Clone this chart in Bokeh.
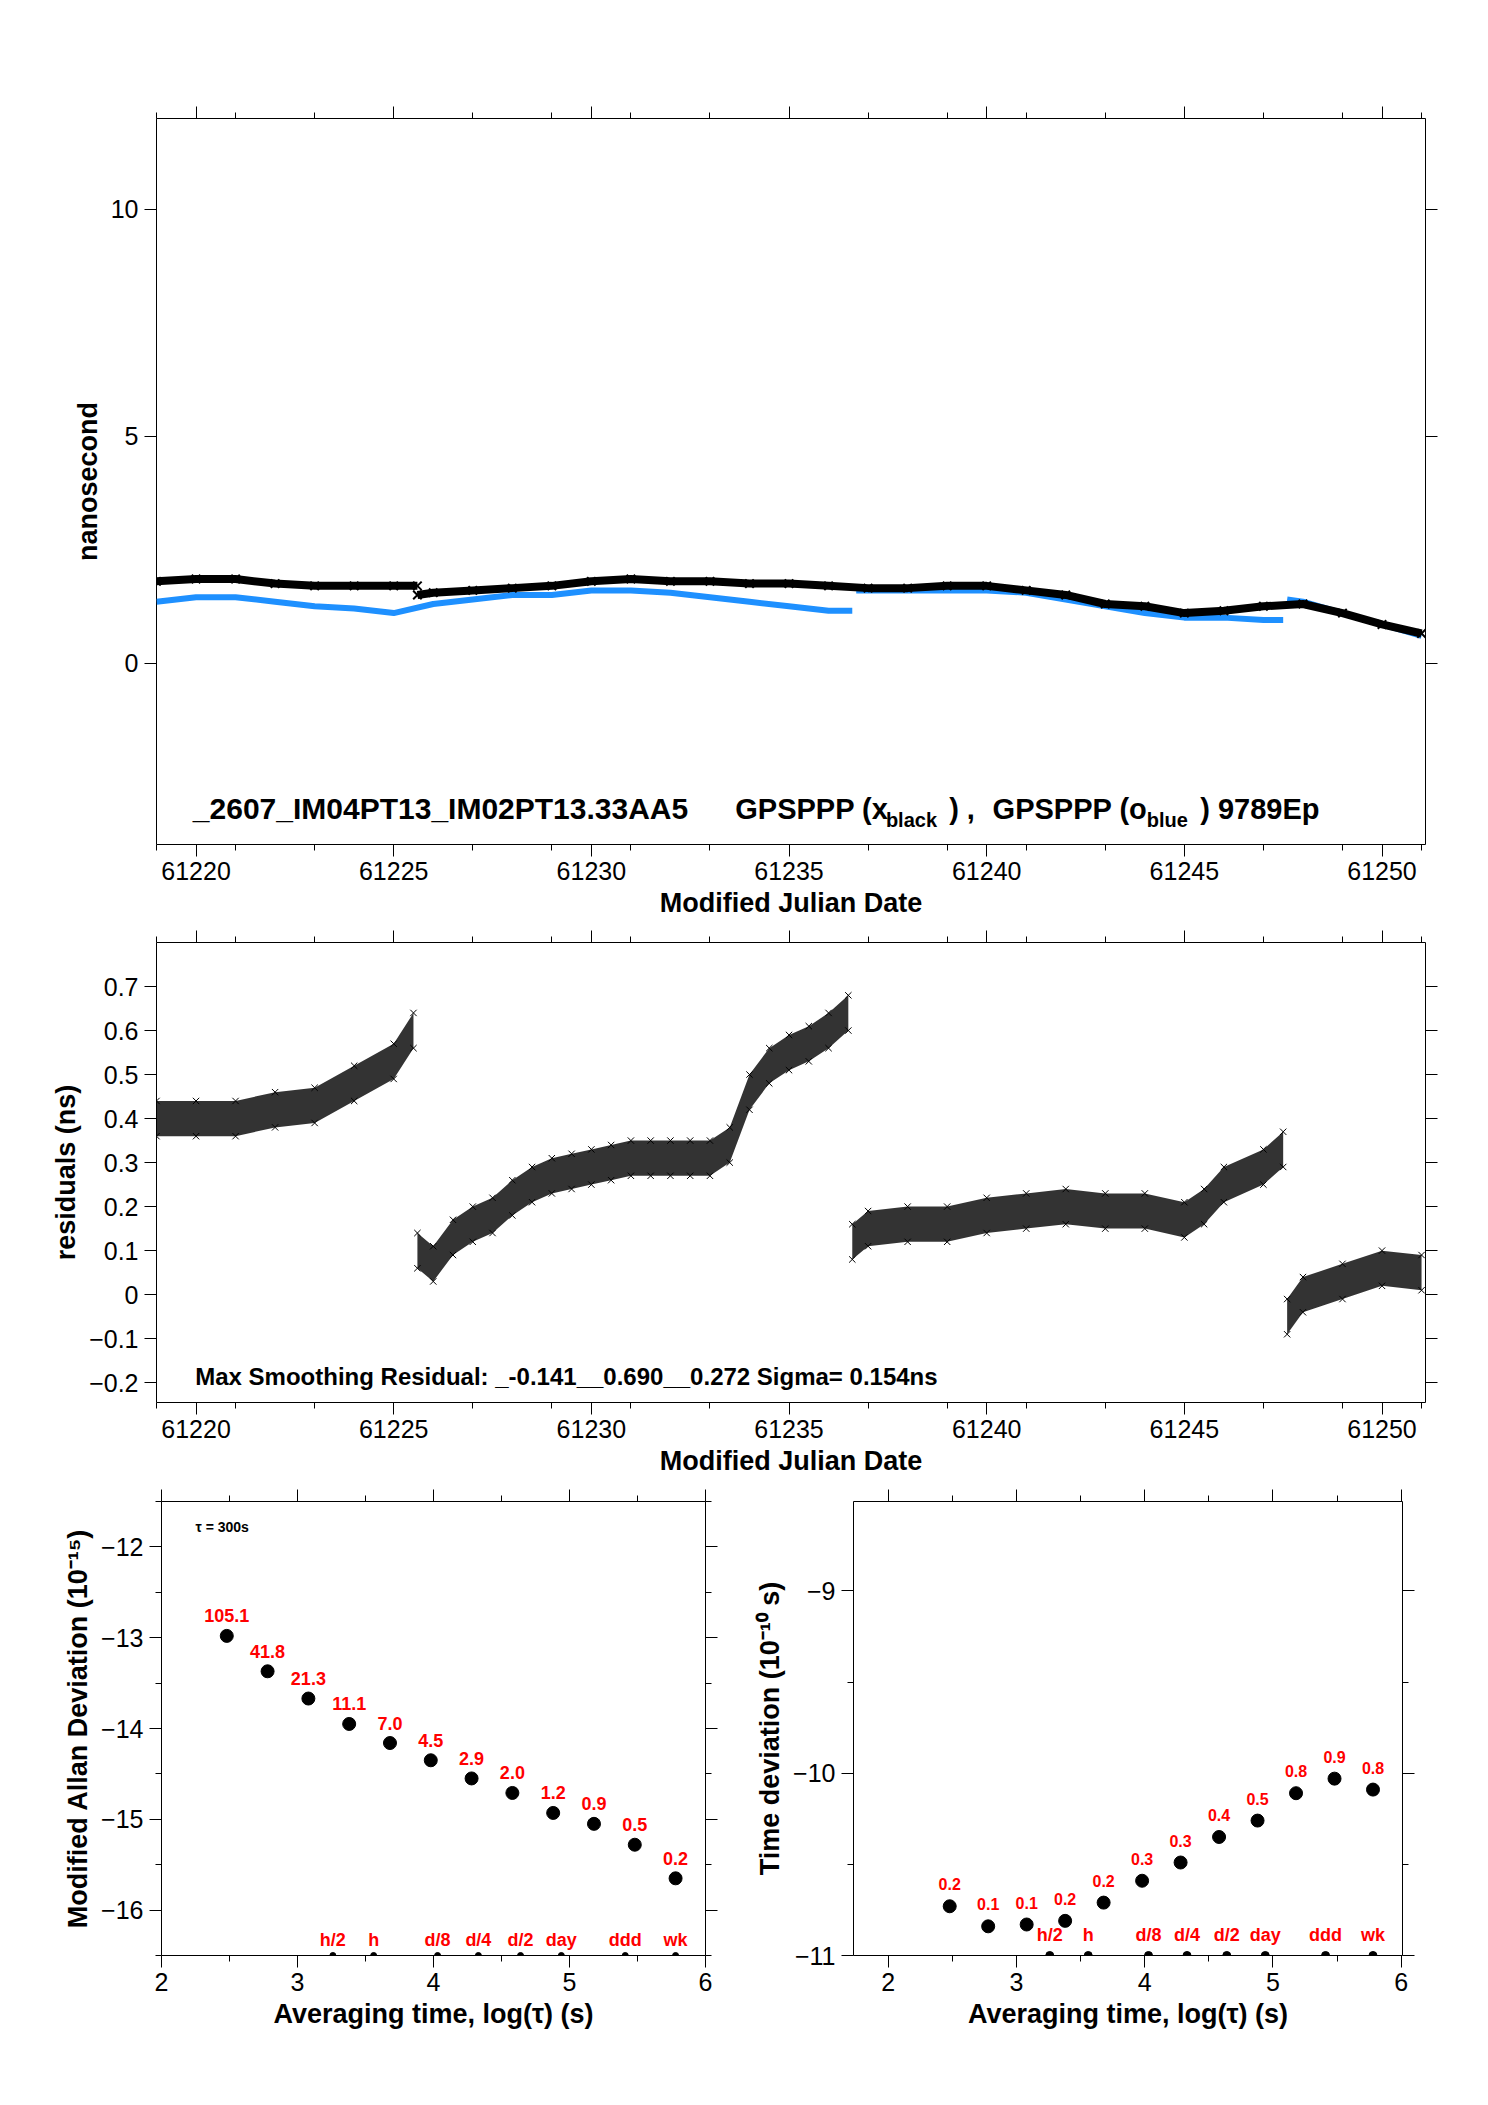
from bokeh.plotting import figure
from bokeh.layouts import column, row
from bokeh.models import Label, LinearAxis, Range1d, ColumnDataSource, BasicTickFormatter, FixedTicker
from bokeh.core.properties import value
from bokeh.embed import file_html
from bokeh.resources import INLINE

FONT = "Liberation Sans"

# top panel
blk_x1 = [61219, 61220, 61221, 61222, 61223, 61224, 61225, 61225.6]
blk_y1 = [1.8, 1.85, 1.85, 1.75, 1.7, 1.7, 1.7, 1.7]
blk_x2 = [61225.6, 61226, 61227, 61228, 61229, 61230, 61231, 61232, 61233, 61234, 61235, 61236, 61237, 61238, 61239, 61240, 61241, 61242, 61243, 61244, 61245, 61246, 61247, 61248, 61249, 61250, 61251]
blk_y2 = [1.5, 1.55, 1.6, 1.65, 1.7, 1.8, 1.85, 1.8, 1.8, 1.75, 1.75, 1.7, 1.65, 1.65, 1.7, 1.7, 1.6, 1.5, 1.3, 1.25, 1.1, 1.15, 1.25, 1.3, 1.1, 0.85, 0.65]
blu_x1 = [61219, 61220, 61221, 61222, 61223, 61224, 61225, 61226, 61227, 61228, 61229, 61230, 61231, 61232, 61233, 61234, 61235, 61236, 61236.6]
blu_y1 = [1.35, 1.45, 1.45, 1.35, 1.25, 1.2, 1.1, 1.3, 1.4, 1.5, 1.5, 1.6, 1.6, 1.55, 1.45, 1.35, 1.25, 1.15, 1.15]
blu_x2 = [61236.7, 61237, 61238, 61239, 61240, 61241, 61242, 61243, 61244, 61245, 61246, 61247, 61247.5]
blu_y2 = [1.6, 1.6, 1.6, 1.6, 1.6, 1.55, 1.4, 1.25, 1.1, 1.0, 1.0, 0.95, 0.95]
blu_x3 = [61247.6, 61248, 61249, 61250, 61251]
blu_y3 = [1.4, 1.35, 1.1, 0.85, 0.6]

# residuals
res_segments = [
    ([61219, 61220, 61221, 61222, 61223, 61224, 61225, 61225.5],
     [0.40, 0.40, 0.40, 0.42, 0.43, 0.48, 0.53, 0.60]),
    ([61225.6, 61226, 61226.5, 61227, 61227.5, 61228, 61228.5, 61229, 61229.5, 61230, 61230.5, 61231, 61231.5, 61232, 61232.5, 61233, 61233.5, 61234, 61234.5, 61235, 61235.5, 61236, 61236.5],
     [0.10, 0.07, 0.13, 0.16, 0.18, 0.22, 0.25, 0.27, 0.28, 0.29, 0.30, 0.31, 0.31, 0.31, 0.31, 0.31, 0.34, 0.46, 0.52, 0.55, 0.57, 0.60, 0.64]),
    ([61236.6, 61237, 61238, 61239, 61240, 61241, 61242, 61243, 61244, 61245, 61245.5, 61246, 61247, 61247.5],
     [0.12, 0.15, 0.16, 0.16, 0.18, 0.19, 0.20, 0.19, 0.19, 0.17, 0.20, 0.25, 0.29, 0.33]),
    ([61247.6, 61248, 61249, 61250, 61251],
     [-0.05, 0.0, 0.03, 0.06, 0.05]),
]
res_halfwidth = 0.04

# stability
tau = [2.48, 2.78, 3.08, 3.38, 3.68, 3.98, 4.28, 4.58, 4.88, 5.18, 5.48, 5.78]
madev = [-12.98, -13.37, -13.67, -13.95, -14.16, -14.35, -14.55, -14.71, -14.93, -15.05, -15.28, -15.65]
madev_lbl = ["105.1", "41.8", "21.3", "11.1", "7.0", "4.5", "2.9", "2.0", "1.2", "0.9", "0.5", "0.2"]
tdev = [-10.73, -10.84, -10.83, -10.81, -10.71, -10.59, -10.49, -10.35, -10.26, -10.11, -10.03, -10.09]
tdev_lbl = ["0.2", "0.1", "0.1", "0.2", "0.2", "0.3", "0.3", "0.4", "0.5", "0.8", "0.9", "0.8"]
mark_x = [3.26, 3.56, 4.03, 4.33, 4.64, 4.94, 5.41, 5.78]
mark_lbl = ["h/2", "h", "d/8", "d/4", "d/2", "day", "ddd", "wk"]


def style(p, xticks, yticks, xminor, yminor):
    p.outline_line_color = "black"
    p.grid.visible = False
    p.xaxis[0].ticker = FixedTicker(ticks=xticks, minor_ticks=xminor)
    p.yaxis[0].ticker = FixedTicker(ticks=yticks, minor_ticks=yminor)
    p.xaxis[0].major_label_text_color = "black"
    p.yaxis[0].major_label_text_color = "black"
    for side, tk in (("above", FixedTicker(ticks=xticks, minor_ticks=xminor)),
                     ("right", FixedTicker(ticks=yticks, minor_ticks=yminor))):
        ax = LinearAxis(ticker=tk, major_label_text_color=None)
        p.add_layout(ax, side)
    for ax in p.xaxis + p.yaxis:
        ax.major_label_text_font = FONT
        ax.major_label_text_font_size = "25px"
        ax.axis_label_text_font = FONT
        ax.axis_label_text_font_size = "27px"
        ax.axis_label_text_font_style = "bold"
        ax.axis_label_text_color = "black"
        ax.major_tick_out = 12
        ax.major_tick_in = 0
        ax.minor_tick_out = 6
        ax.minor_tick_in = 0
        ax.axis_line_color = None
    p.xaxis[0].axis_label_standoff = 2
    p.yaxis[0].major_label_standoff = 6


mjd_major = [61220, 61225, 61230, 61235, 61240, 61245, 61250]
mjd_minor = [d for d in range(61219, 61252, 2)]

# ---- top
p1 = figure(frame_width=1269, frame_height=726, x_range=Range1d(61219, 61251.1),
            y_range=Range1d(-4, 12), output_backend="svg", toolbar_location=None,
            min_border_left=156, min_border_right=40, min_border_top=118, min_border_bottom=20)
p1.line(blu_x1, blu_y1, color="#1e90ff", line_width=6)
p1.line(blu_x2, blu_y2, color="#1e90ff", line_width=6)
p1.line(blu_x3, blu_y3, color="#1e90ff", line_width=6)
p1.line(blk_x1, blk_y1, color="black", line_width=8)
p1.line(blk_x2, blk_y2, color="black", line_width=8)
p1.scatter(blk_x1 + blk_x2, blk_y1 + blk_y2, marker="x", size=12, color="black", line_width=2)
p1.xaxis.axis_label = "Modified Julian Date"
p1.yaxis.axis_label = "nanosecond"
style(p1, mjd_major, [0, 5, 10], mjd_minor, [])
pieces = [(61219.92, -3.21, "_2607_IM04PT13_IM02PT13.33AA5", "30px"),
          (61233.64, -3.21, "GPSPPP (x", "29px"),
          (61237.45, -3.45, "black", "20px"),
          (61239.05, -3.21, ") ,", "29px"),
          (61240.15, -3.21, "GPSPPP (o", "29px"),
          (61244.05, -3.45, "blue", "20px"),
          (61245.4, -3.21, ")  9789Ep", "29px")]
for x, y, t, fs in pieces:
    p1.add_layout(Label(x=x, y=y, text=t, text_font=FONT, text_font_size=fs, text_color="black",
                        text_font_style="bold", text_baseline="alphabetic"))

# ---- residuals
p2 = figure(frame_width=1269, frame_height=460, x_range=Range1d(61219, 61251.1),
            y_range=Range1d(-0.245, 0.8), output_backend="svg", toolbar_location=None,
            min_border_left=156, min_border_right=40, min_border_top=22, min_border_bottom=20)
for xs, ys in res_segments:
    lo = [v - res_halfwidth for v in ys]
    hi = [v + res_halfwidth for v in ys]
    p2.varea(x=xs, y1=lo, y2=hi, color="black", alpha=0.8)
    p2.scatter(xs, hi, marker="x", size=9, color="black")
    p2.scatter(xs, lo, marker="x", size=9, color="black")
p2.xaxis.axis_label = "Modified Julian Date"
p2.yaxis.axis_label = "residuals (ns)"
rt = [-0.2, -0.1, 0.0, 0.1, 0.2, 0.3, 0.4, 0.5, 0.6, 0.7]
style(p2, mjd_major, rt, mjd_minor, [])
p2.yaxis[0].formatter = BasicTickFormatter(precision=1)
p2.add_layout(Label(x=61219.98, y=-0.187, text="Max Smoothing Residual: _-0.141__0.690__0.272  Sigma= 0.154ns",
                    text_font=FONT, text_font_size="24px", text_font_style="bold", text_color="black",
                    text_baseline="alphabetic"))

# ---- MADEV
p3 = figure(frame_width=544, frame_height=454, x_range=Range1d(2, 6), y_range=Range1d(-16.5, -11.5),
            output_backend="svg", toolbar_location=None,
            min_border_left=161, min_border_right=47, min_border_top=23, min_border_bottom=20)
p3.scatter(tau, madev, size=13, color="black")
src3 = ColumnDataSource(dict(x=tau, y=madev, t=madev_lbl))
p3.text(x="x", y="y", text="t", source=src3, text_color="red", text_font=value(FONT),
        text_font_size="18px", text_font_style="bold", text_align="center",
        text_baseline="alphabetic", y_offset=-20)
p3.scatter(mark_x, [-16.5] * len(mark_x), size=6, color="black")
src3b = ColumnDataSource(dict(x=mark_x, y=[-16.33] * len(mark_x), t=mark_lbl))
p3.text(x="x", y="y", text="t", source=src3b, text_color="red", text_font=value(FONT),
        text_font_size="18px", text_font_style="bold", text_align="center", text_baseline="alphabetic")
p3.add_layout(Label(x=2.25, y=-11.78, text="τ = 300s", text_font=FONT, text_font_size="14px",
                    text_font_style="bold", text_color="black", text_baseline="alphabetic"))
p3.xaxis.axis_label = "Averaging time, log(τ) (s)"
p3.yaxis.axis_label = "Modified Allan Deviation (10⁻¹⁵)"
style(p3, [2, 3, 4, 5, 6], [-16, -15, -14, -13, -12], [2.5, 3.5, 4.5, 5.5],
      [-16.5, -15.5, -14.5, -13.5, -12.5, -11.5])

# ---- TDEV
p4 = figure(frame_width=549, frame_height=454, x_range=Range1d(1.73, 6.01), y_range=Range1d(-11, -8.51),
            output_backend="svg", toolbar_location=None,
            min_border_left=95, min_border_right=40, min_border_top=23, min_border_bottom=20)
p4.scatter(tau, tdev, size=13, color="black")
src4 = ColumnDataSource(dict(x=tau, y=tdev, t=tdev_lbl))
p4.text(x="x", y="y", text="t", source=src4, text_color="red", text_font=value(FONT),
        text_font_size="16px", text_font_style="bold", text_align="center",
        text_baseline="alphabetic", y_offset=-22)
p4.scatter(mark_x, [-11] * len(mark_x), size=8, color="black")
src4b = ColumnDataSource(dict(x=mark_x, y=[-10.89] * len(mark_x), t=mark_lbl))
p4.text(x="x", y="y", text="t", source=src4b, text_color="red", text_font=value(FONT),
        text_font_size="18px", text_font_style="bold", text_align="center", text_baseline="alphabetic")
p4.xaxis.axis_label = "Averaging time, log(τ) (s)"
p4.yaxis.axis_label = "Time deviation (10⁻¹⁰ s)"
style(p4, [2, 3, 4, 5, 6], [-11, -10, -9], [2.5, 3.5, 4.5, 5.5], [-10.5, -9.5, -8.5])

layout = column(p1, p2, row(p3, p4, spacing=0), spacing=0)
open("out.html", "w").write(file_html(layout, INLINE))
